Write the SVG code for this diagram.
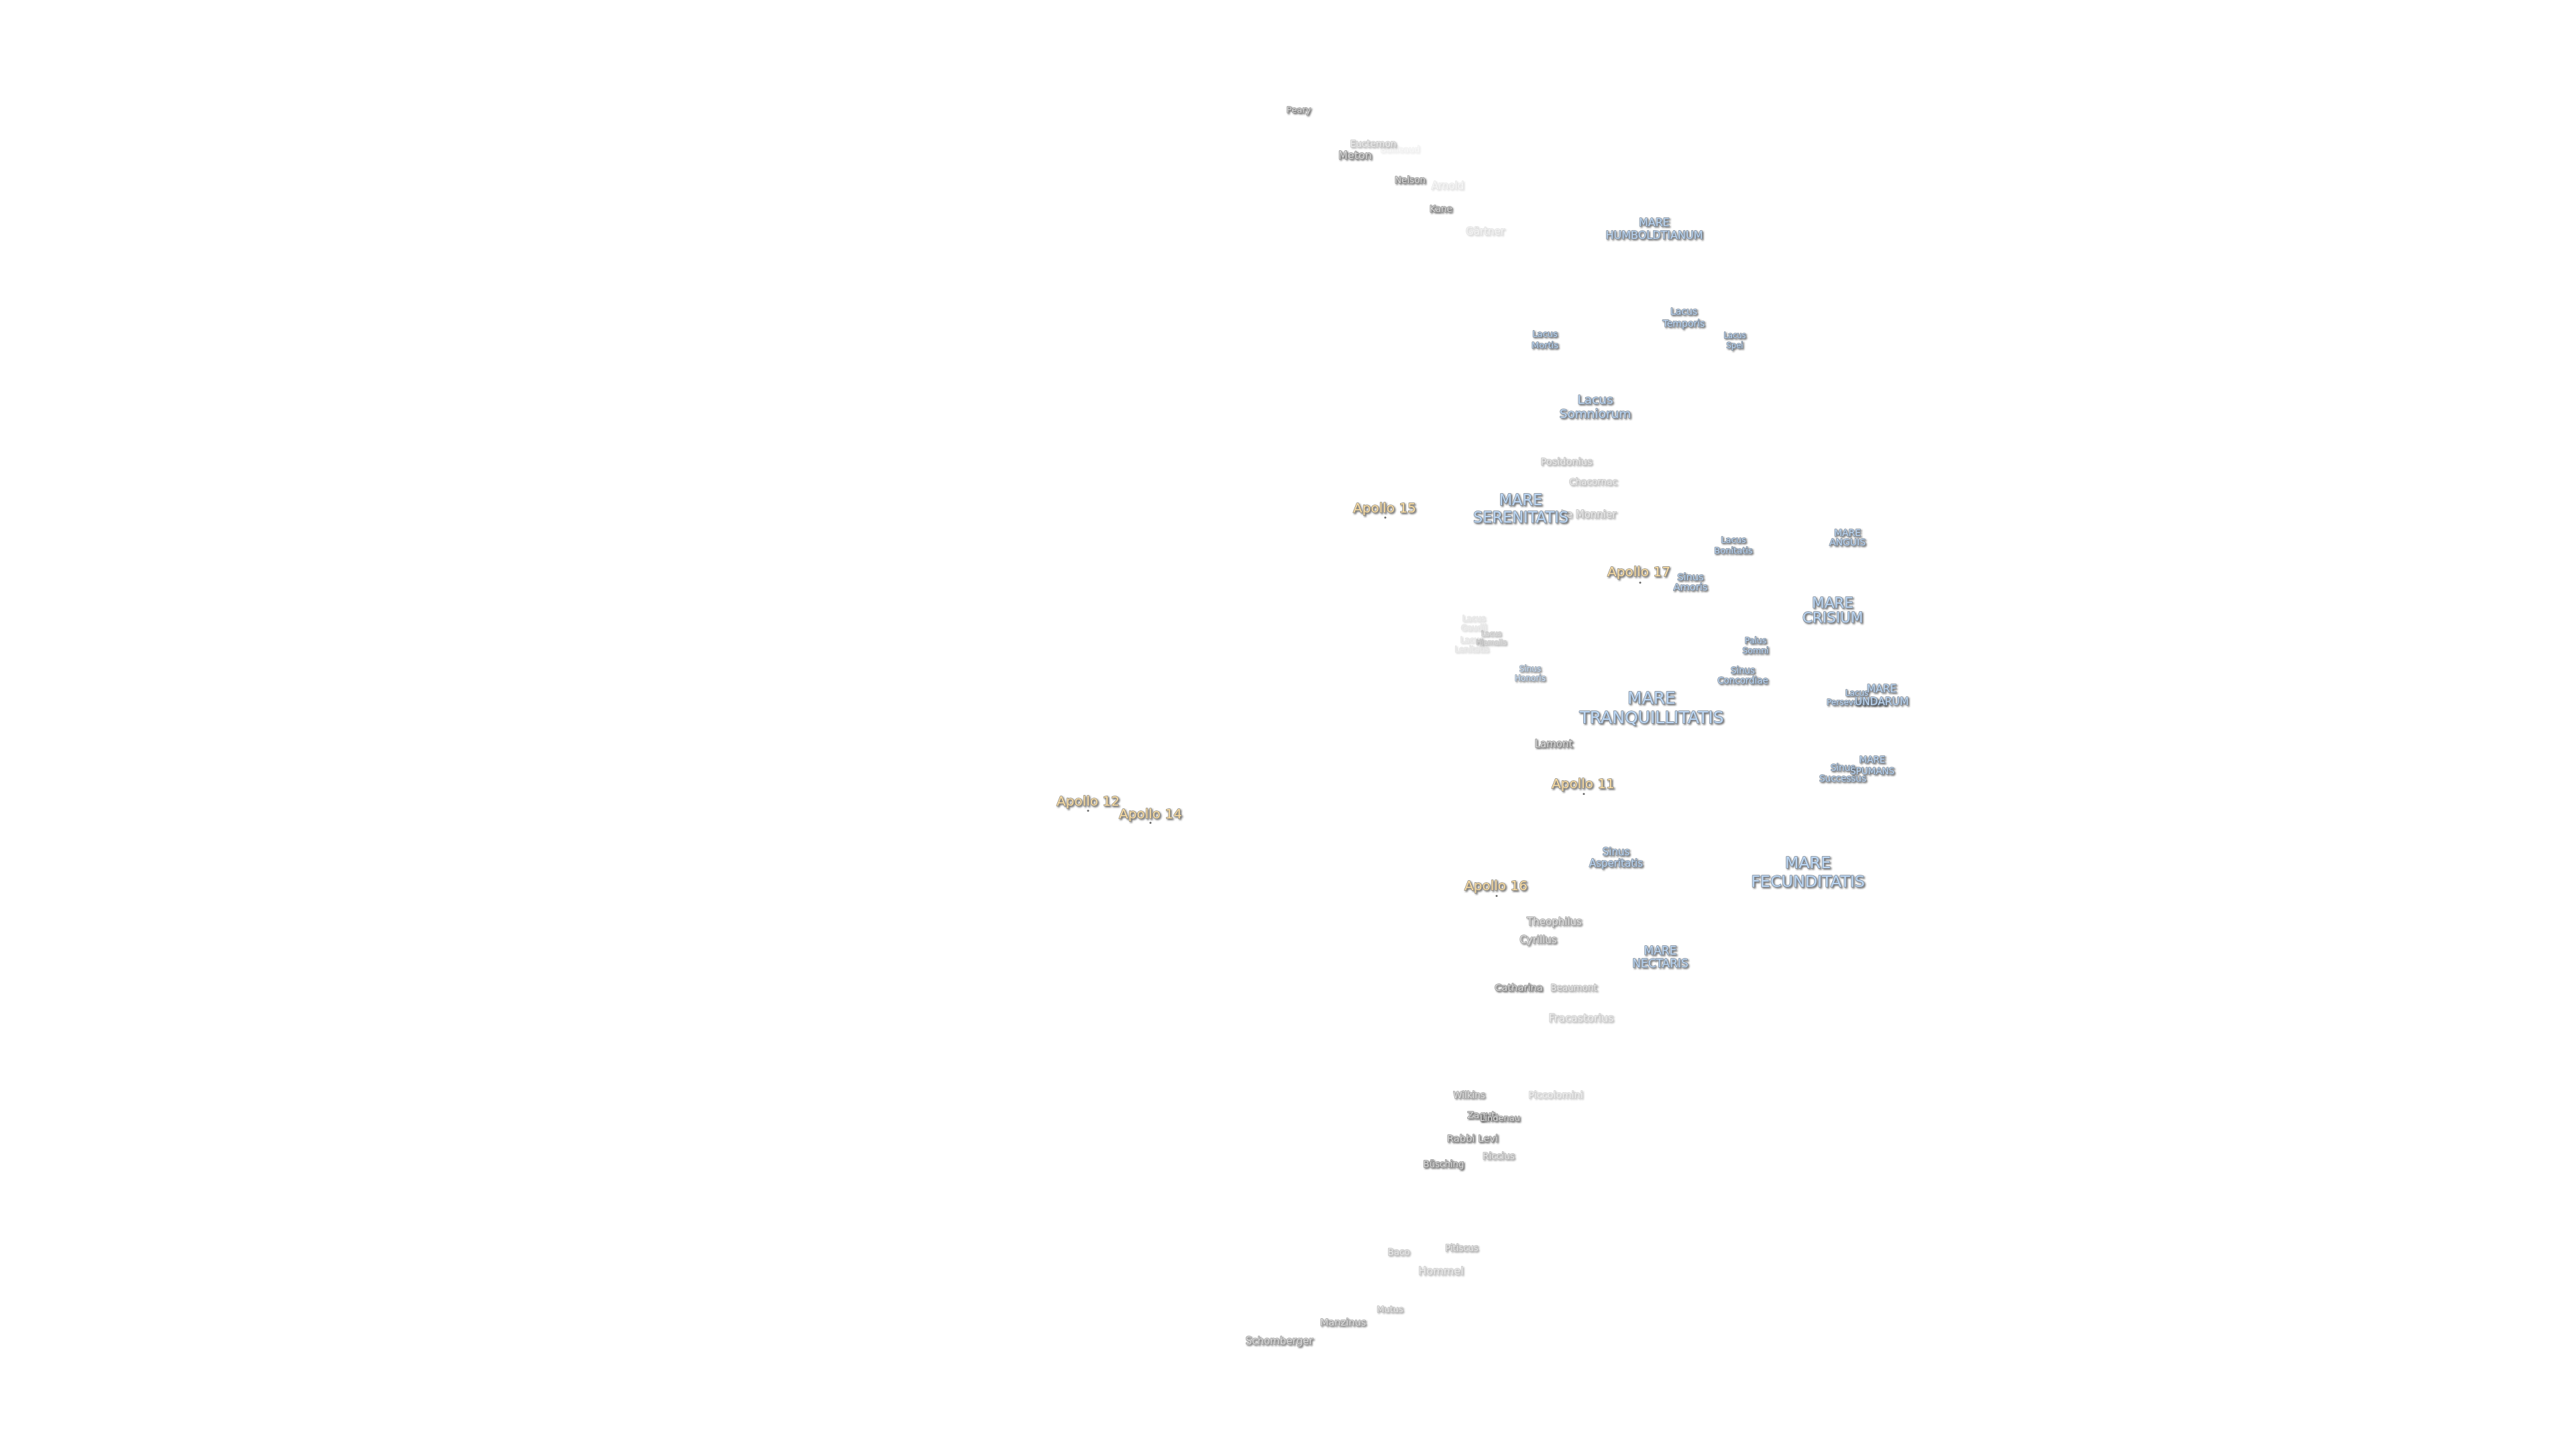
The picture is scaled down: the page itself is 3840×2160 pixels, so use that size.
<svg xmlns="http://www.w3.org/2000/svg" width="3840" height="2160" viewBox="0 0 3840 2160">
<style>
text{font-family:"DejaVu Sans",sans-serif;text-anchor:middle;dominant-baseline:central;paint-order:stroke;stroke-width:1.5;stroke-linejoin:round;filter:url(#s)}
.c{fill:#d8d8d8;stroke:#8a8a8a}
.m{fill:#bcd6f2;stroke:#7a8694}
.g{fill:#b8b8b8;stroke:#999}
.a{fill:#f8dca4;stroke:#8a857a}
.d{fill:#666}
</style>
<defs><filter id="s" x="-20%" y="-40%" width="140%" height="190%"><feGaussianBlur in="SourceGraphic" stdDeviation="0.5" result="b"/><feDropShadow in="b" dx="1.7" dy="1.7" stdDeviation="0.9" flood-color="#222" flood-opacity="0.65"/></filter></defs>
<rect width="3840" height="2160" fill="#fff"/>
<g id="connectors"/>
<g transform="translate(0,-0.5)">
<g id="peary"><text class="c" font-size="13" x="1936" y="164">Peary</text></g>
<g id="bailleaud" opacity=".13"><text class="c" font-size="12.6" x="2087" y="223">Bailleaud</text></g>
<g id="euctemon" opacity=".5"><text class="c" font-size="13.7" x="2047" y="214">Euctemon</text></g>
<g id="meton"><text class="c" font-size="16" x="2020" y="232">Meton</text></g>
<g id="nelson"><text class="c" font-size="13.5" x="2102" y="268">Nelson</text></g>
<g id="arnold" opacity=".22"><text class="c" font-size="15" x="2158" y="277">Arnold</text></g>
<g id="kane"><text class="c" font-size="13.6" x="2148" y="311">Kane</text></g>
<g id="gartner" opacity=".28"><text class="c" font-size="15" x="2214" y="345">Gärtner</text></g>
<g id="mare-humboldtianum"><text class="m" font-size="16" x="2466" y="332">MARE</text><text class="m" font-size="16" x="2466" y="351">HUMBOLDTIANUM</text></g>
<g id="lacus-temporis"><text class="m" font-size="14" x="2510" y="464">Lacus</text><text class="m" font-size="14" x="2510" y="482">Temporis</text></g>
<g id="lacus-mortis"><text class="m" font-size="13" x="2303" y="498">Lacus</text><text class="m" font-size="13" x="2303" y="515">Mortis</text></g>
<g id="lacus-spei"><text class="m" font-size="11.5" x="2586" y="500">Lacus</text><text class="m" font-size="11.5" x="2586" y="515">Spei</text></g>
<g id="lacus-somniorum"><text class="m" font-size="18.5" x="2378" y="596">Lacus</text><text class="m" font-size="18.5" x="2378" y="617">Somniorum</text></g>
<g id="posidonius" opacity=".55"><text class="c" font-size="14.6" x="2335" y="688">Posidonius</text></g>
<g id="chacornac" opacity=".5"><text class="c" font-size="13.6" x="2375" y="718">Chacornac</text></g>
<g id="le-monnier" opacity=".55"><text class="c" font-size="15" x="2368" y="767">Le Monnier</text></g>
<g id="mare-serenitatis"><text class="m" font-size="22.5" x="2267" y="745">MARE</text><text class="m" font-size="22.5" x="2267" y="771">SERENITATIS</text></g>
<g id="apollo-15"><text class="a" font-size="20" x="2064" y="757">Apollo 15</text><circle class="d" cx="2065" cy="772" r="1.5"/></g>
<g id="apollo-17"><text class="a" font-size="20" x="2443" y="852">Apollo 17</text><circle class="d" cx="2445" cy="869" r="1.5"/></g>
<g id="lacus-bonitatis"><text class="m" font-size="13" x="2584" y="805">Lacus</text><text class="m" font-size="13" x="2584" y="821">Bonitatis</text></g>
<g id="mare-anguis"><text class="m" font-size="14" x="2754" y="794">MARE</text><text class="m" font-size="14" x="2754" y="808">ANGUIS</text></g>
<g id="sinus-amoris"><text class="m" font-size="14.6" x="2520" y="860">Sinus</text><text class="m" font-size="14.6" x="2520" y="875">Amoris</text></g>
<g id="mare-crisium"><text class="m" font-size="21.5" x="2732" y="899">MARE</text><text class="m" font-size="21.5" x="2732" y="921">CRISIUM</text></g>
<g id="lacus-gaudii" opacity=".25"><text class="g" font-size="12" x="2197" y="922">Lacus</text><text class="g" font-size="12" x="2197" y="936">Gaudii</text></g>
<g id="lacus-lenitatis" opacity=".25"><text class="g" font-size="12" x="2194" y="954">Lacus</text><text class="g" font-size="12" x="2194" y="968">Lenitatis</text></g>
<g id="lacus-hiemalis" opacity=".5"><text class="g" font-size="10.5" x="2223" y="944">Lacus</text><text class="g" font-size="10.5" x="2223" y="957">Hiemalis</text></g>
<g id="palus-somni"><text class="m" font-size="12.5" x="2617" y="955">Palus</text><text class="m" font-size="12.5" x="2617" y="970">Somni</text></g>
<g id="sinus-honoris" opacity=".8"><text class="m" font-size="12" x="2281" y="997">Sinus</text><text class="m" font-size="12" x="2281" y="1011">Honoris</text></g>
<g id="sinus-concordiae"><text class="m" font-size="13.4" x="2598" y="1000">Sinus</text><text class="m" font-size="13.4" x="2598" y="1015">Concordiae</text></g>
<g id="mare-tranquillitatis"><text class="m" font-size="25" x="2462" y="1041">MARE</text><text class="m" font-size="25" x="2462" y="1070">TRANQUILLITATIS</text></g>
<g id="lacus-perseverantiae"><text class="m" font-size="12" x="2768" y="1033">Lacus</text><text class="m" font-size="12" x="2768" y="1047">Perseverantiae</text></g>
<g id="mare-undarum"><text class="m" font-size="15.5" x="2805" y="1027">MARE</text><text class="m" font-size="15.5" x="2805" y="1046">UNDARUM</text></g>
<g id="sinus-successus"><text class="m" font-size="13.5" x="2747" y="1144">Sinus</text><text class="m" font-size="13.5" x="2747" y="1160">Successus</text></g>
<g id="mare-spumans"><text class="m" font-size="13.5" x="2791" y="1132">MARE</text><text class="m" font-size="13.5" x="2791" y="1149">SPUMANS</text></g>
<g id="lamont"><text class="c" font-size="15" x="2316" y="1109">Lamont</text></g>
<g id="apollo-11"><text class="a" font-size="20" x="2360" y="1168">Apollo 11</text><circle class="d" cx="2361" cy="1184" r="1.5"/></g>
<g id="apollo-12"><text class="a" font-size="20" x="1622" y="1194">Apollo 12</text><circle class="d" cx="1622" cy="1209" r="1.5"/></g>
<g id="apollo-14"><text class="a" font-size="20" x="1715" y="1213">Apollo 14</text><circle class="d" cx="1715" cy="1227" r="1.5"/></g>
<g id="sinus-asperitatis"><text class="m" font-size="15" x="2409" y="1270">Sinus</text><text class="m" font-size="15" x="2409" y="1287">Asperitatis</text></g>
<g id="mare-fecunditatis"><text class="m" font-size="23.8" x="2695" y="1286">MARE</text><text class="m" font-size="23.8" x="2695" y="1314">FECUNDITATIS</text></g>
<g id="apollo-16"><text class="a" font-size="20" x="2230" y="1320">Apollo 16</text><circle class="d" cx="2231" cy="1336" r="1.5"/></g>
<g id="theophilus" opacity=".8"><text class="c" font-size="15" x="2317" y="1374">Theophilus</text></g>
<g id="cyrillus" opacity=".85"><text class="c" font-size="15" x="2293" y="1401">Cyrillus</text></g>
<g id="mare-nectaris"><text class="m" font-size="17" x="2475" y="1417">MARE</text><text class="m" font-size="17" x="2475" y="1436">NECTARIS</text></g>
<g id="catharina"><text class="c" font-size="14.7" x="2264" y="1472">Catharina</text></g>
<g id="beaumont" opacity=".6"><text class="c" font-size="13.5" x="2346" y="1472">Beaumont</text></g>
<g id="fracastorius" opacity=".45"><text class="c" font-size="16" x="2357" y="1518">Fracastorius</text></g>
<g id="wilkins" opacity=".8"><text class="c" font-size="13.5" x="2190" y="1632">Wilkins</text></g>
<g id="piccolomini" opacity=".4"><text class="c" font-size="14.5" x="2319" y="1632">Piccolomini</text></g>
<g id="zagut"><text class="c" font-size="14" x="2208" y="1662">Zagut</text></g>
<g id="lindenau"><text class="c" font-size="13" x="2236" y="1667">Lindenau</text></g>
<g id="rabbi-levi"><text class="c" font-size="14.7" x="2195" y="1697">Rabbi Levi</text></g>
<g id="riccius" opacity=".65"><text class="c" font-size="13.7" x="2234" y="1723">Riccius</text></g>
<g id="busching"><text class="c" font-size="13.3" x="2152" y="1736">Büsching</text></g>
<g id="baco" opacity=".55"><text class="c" font-size="13.5" x="2085" y="1866">Baco</text></g>
<g id="pitiscus" opacity=".6"><text class="c" font-size="13.2" x="2179" y="1861">Pitiscus</text></g>
<g id="hommel" opacity=".5"><text class="c" font-size="16" x="2148" y="1895">Hommel</text></g>
<g id="mutus" opacity=".6"><text class="c" font-size="13" x="2072" y="1952">Mutus</text></g>
<g id="manzinus" opacity=".85"><text class="c" font-size="14.6" x="2002" y="1971">Manzinus</text></g>
<g id="schomberger" opacity=".9"><text class="c" font-size="15" x="1907" y="1999">Schomberger</text></g>
</g>
</svg>
